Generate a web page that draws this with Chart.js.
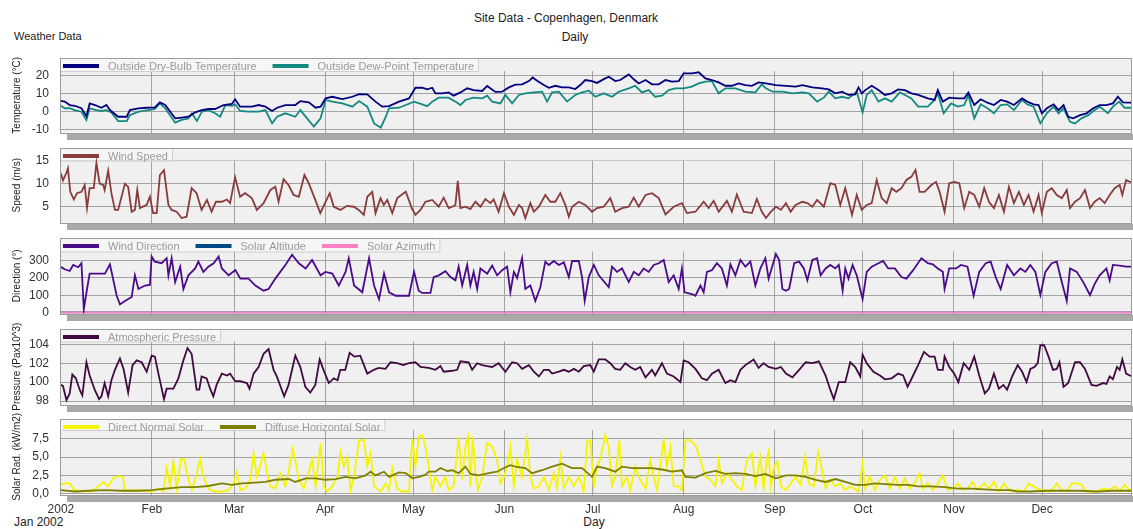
<!DOCTYPE html>
<html><head><meta charset="utf-8">
<script src="https://cdn.jsdelivr.net/npm/chart.js@4.4.0/dist/chart.umd.min.js"></script>
<style>
html,body{margin:0;padding:0;background:#fff;width:1133px;height:529px;overflow:hidden;font-family:"Liberation Sans",Arial,sans-serif;}
canvas{position:absolute;left:0;top:0;}
.t{position:absolute;white-space:nowrap;color:#222;line-height:1;}
</style></head><body>
<div class="t" style="left:566px;top:12px;font-size:12px;transform:translateX(-50%);">Site Data - Copenhagen, Denmark</div>
<div class="t" style="left:575px;top:31px;font-size:12px;transform:translateX(-50%);">Daily</div>
<div class="t" style="left:14px;top:31px;font-size:11px;">Weather Data</div>
<div class="t" style="left:14px;top:516px;font-size:12px;">Jan 2002</div>
<div class="t" style="left:594px;top:516px;font-size:12px;transform:translateX(-50%);">Day</div>
<script>
// ---------------- DATA (day of year, value) ----------------
const monthTicks = [0,31,59,90,120,151,181,212,243,273,304,334];
const monthLabels = ['2002','Feb','Mar','Apr','May','Jun','Jul','Aug','Sep','Oct','Nov','Dec'];
const tempTicks = [-10,0,10,20];
const speedTicks = [5,10,15];
const dirTicks = [0,100,200,300];
const pressTicks = [98,100,102,104];
const solarTicks = [0,2.5,5,7.5];

const dryBulb = [[0,6],[1.3,5.6],[3,3.7],[4.7,3.3],[7,1.9],[8.7,-2.5],[9.8,4.6],[11.6,3.7],[13.8,2.2],[15.5,3.7],[16.7,0.9],[19.5,-2.8],[22.4,-2.8],[23.5,0.9],[26.4,1.9],[29.2,2.2],[32,2.4],[33.7,5.2],[35.5,3.7],[38.9,-3.7],[41.1,-3.3],[43.4,-2.8],[45.7,-0.4],[48,0.9],[50.2,1.5],[52.5,1.5],[55.4,3.7],[58.2,4.3],[59.3,6.9],[61,2.8],[65,2.8],[67.3,3.7],[69.6,2.8],[71.9,0.4],[73.6,2.2],[76.4,3.7],[79.8,3.7],[81.5,5.9],[84.4,5.2],[86.7,2.2],[88.4,2.8],[90.1,7.4],[92.4,8.3],[95.8,7],[99.2,8.3],[101.5,9.8],[104.3,9.6],[107.1,5.6],[109.4,2.8],[111.7,3.1],[115.1,5.6],[118.5,7.4],[120.7,13.3],[123,13.3],[124.7,12.4],[126.4,13.3],[127.5,10.2],[129.8,10.2],[132,10.7],[133.7,8.9],[136,10.7],[138.3,13],[140.5,12],[143.4,11.5],[145.1,14.3],[147.9,11],[150.2,11.1],[152.5,13.5],[154.7,15],[157,15.2],[159.3,17],[160.6,19],[162.1,17.2],[164.4,14.8],[166.1,13.3],[168.3,14.4],[170.6,13.5],[172.9,13.5],[175.1,12.6],[176.8,14.8],[178.5,17.6],[180.8,17],[182.5,16],[184.8,18.1],[186.5,19.4],[188.7,17],[190.4,17.6],[193.3,20.7],[195,18],[196.7,15.7],[199,17.6],[201.2,15.2],[203.5,15.2],[205.8,17.6],[208,16.7],[210.3,17],[212,21.3],[214.8,21.3],[217.1,21.9],[219.4,18.5],[221.6,17.6],[223.9,16.3],[226.2,14.4],[228.4,14.4],[230.7,15.7],[233,14.8],[235.2,14.4],[237.5,16.3],[240,15.7],[243.4,14.8],[246.8,14.3],[250.1,13.9],[252.4,14.8],[255.8,13.5],[259.1,13],[261.4,12.4],[263.6,10.2],[265.9,11.1],[268.1,9.3],[270.4,9.6],[271.5,13.5],[272.6,10.2],[273.8,12],[276,14.4],[278.3,12],[280.5,9.3],[282.8,10.2],[285,12.4],[287.3,12],[289.5,10.2],[291.8,9.3],[295.1,7.4],[297.4,6.5],[298.5,12],[300.2,5.6],[302.4,7.8],[305.3,7.4],[307.5,7.4],[308.9,10.6],[310.9,3.7],[313.1,6.9],[315.4,5],[317.6,3.7],[319.9,6.5],[322.1,5.6],[324.4,3.7],[327.2,7.4],[328.9,5.6],[331.1,4.1],[332.8,3.7],[333.9,-0.9],[335.6,1.9],[337.9,4.1],[339.6,0.9],[341.3,3.7],[342.9,-2.8],[344.6,-3.7],[346.9,-1.9],[349.1,-0.9],[351.4,1.9],[353.6,3.7],[355.9,3.7],[358.1,4.6],[359.8,8.3],[361.5,5.2],[363.8,5],[365,5]];

const dewPoint = [[0,3.3],[1.3,1.9],[3,1.9],[4.7,0.9],[7,0],[8.7,-4.6],[9.8,1.9],[12.1,0.9],[13.8,0.4],[15.5,0.9],[17.2,-0.4],[19.5,-5.2],[22.4,-5.2],[23.5,-1.9],[26.4,0],[29.8,0.9],[32,1.5],[33.7,4.6],[35.5,1.9],[38.9,-6.1],[41.1,-4.6],[43.4,-3.7],[44.6,-0.9],[46.3,-5.2],[48,0],[50.2,0.9],[52.5,-0.9],[54.2,-2.8],[56,3.7],[58.2,3.3],[59.3,4.1],[61,0.4],[63.9,0],[67.3,0],[69.6,0.9],[71.9,-6.5],[73.6,-2.8],[76.4,-0.9],[79.8,-2.8],[81.5,0.9],[83.8,-3.7],[86.1,-8.3],[88.4,-3.7],[90.1,6.5],[92.4,5.6],[95.8,4.6],[99.2,2.8],[101.5,5.9],[104.3,2.8],[106.6,-6.5],[108.9,-8.9],[110.6,-2.8],[111.7,1.9],[115.1,2.2],[117.4,3.7],[120.2,5.6],[123,4.1],[124.7,3.1],[126.4,5.6],[128.6,7.8],[132,7.8],[134.9,5],[136,3.7],[137.7,6.5],[140.5,7.8],[143.4,7.4],[145.1,8.9],[146.8,5.6],[149.6,4.6],[151.3,9.3],[153.6,4.6],[155.9,9.3],[158.1,10.2],[161,10.7],[163.8,11.1],[165.5,5.6],[167.2,10.7],[169.5,11.1],[172.3,5.6],[175.1,9.3],[177.4,10.7],[179.7,11.7],[181.9,8.3],[184.8,10.2],[187.6,8.3],[189.9,11.1],[193.3,13],[195.5,14.4],[197.8,10.7],[200.1,12],[202.3,8.3],[204.6,8.9],[206.9,12],[209.1,13],[212,13],[214.8,13.9],[217.1,15.7],[219.4,16.7],[221.6,17],[223.9,10.2],[226.2,13],[229.6,13],[233,11.1],[236.4,10.7],[238.6,15.2],[240,13],[242.3,11.1],[245.6,11.1],[249,10.2],[252.4,10.7],[254.6,10.2],[257.4,5.6],[259.7,7.8],[261.4,11.1],[263.6,7.4],[265.9,8.3],[268.1,7.4],[270.9,11.1],[272.9,-0.4],[274.3,9.3],[276,12],[278.3,5.6],[280.5,7.4],[282.8,5.6],[285.6,10.7],[287.3,9.3],[289.5,7.4],[291.8,2.8],[295.1,2.8],[297.4,6.5],[298.5,10.2],[300.5,-0.9],[303,4.6],[305.3,2.8],[307.5,3.7],[308.9,9.3],[310.9,-3.7],[313.1,4.1],[315.4,1.9],[317.6,-0.9],[319.9,3.7],[322.1,4.1],[324.4,0.9],[327.2,6.5],[328.9,4.1],[331.1,2.8],[333.4,-6.5],[335.6,-0.9],[337.9,2.8],[339.6,-0.9],[341.3,1.9],[343.5,-5.6],[345.2,-6.5],[347.4,-3.7],[349.7,-1.9],[351.9,0.9],[353.6,2.8],[356.4,-0.9],[358.1,2.8],[360.2,5.6],[362.1,2.2],[365,2.2]];

const windSpeed = [[0,12.3],[0.7,10.7],[1.9,12.4],[2.4,13.4],[3.2,8.2],[4.4,6.5],[5.5,7.9],[7,8.2],[8.1,9.7],[8.9,4.6],[9.8,9],[11.2,9],[12.1,14.6],[13.2,10],[14.4,9.7],[14.9,8.6],[16.1,12.9],[17.2,7.9],[18.4,4.2],[19.5,4.2],[21.8,10],[22.9,9.3],[24.1,3.8],[25.2,4.2],[26,8.6],[26.9,4.6],[29.2,5.3],[30.3,7.1],[31.4,3.5],[32.6,3.5],[33.7,11.9],[35.1,13],[36.6,5.3],[37.7,4.2],[39.4,3.8],[41.1,2.4],[42.8,2.7],[44.5,9],[46.2,7.9],[47.9,4.2],[49.7,6.4],[51.3,3.8],[52.8,6],[54.8,6],[56.5,6.5],[57.6,5.7],[59.3,11.4],[61,7.1],[62.7,7.9],[65,6.8],[66.7,4.2],[69,5.7],[71.3,8.6],[73,9.3],[74.1,6],[75.8,11],[77.5,9.7],[79.2,7.5],[81,7.1],[82.9,11.9],[84.3,10.2],[86.6,6.4],[88.3,3.5],[90.1,6],[91.5,7.9],[92.9,4.9],[95.2,4.2],[97.4,5.1],[99.7,4.9],[101.4,4.2],[103.1,3.1],[104.3,7.1],[106,8.2],[107.1,3.5],[108.8,6.8],[109.9,5.3],[111.1,6.4],[112.8,3.5],[114.5,6.8],[117.4,8.2],[119.5,4.5],[120.7,3.1],[122.4,4.2],[124.1,6],[126.4,6.4],[128.6,4.9],[130.3,6.9],[132,4.6],[133.2,4.9],[134.3,5.3],[135.1,10.6],[136,4.6],[137.7,4.9],[139.4,4.4],[141.1,6],[142.8,4.9],[144.5,6.6],[146.2,5.7],[147.3,6.5],[149,3.8],[150.8,7.9],[152.5,4.9],[154.2,3.1],[155.9,5.3],[157,4.6],[158.1,2.4],[159.8,5.7],[161,3.8],[162.7,4.9],[164.9,7.5],[166.6,6],[168.3,6],[170,7.9],[171.7,5.3],[172.9,2.7],[174,4.9],[176.3,6],[178.5,5.3],[180.8,3.8],[182.5,4.6],[184.8,4.9],[187,6.8],[188.7,3.8],[191,4.6],[193.3,4.9],[195,6.9],[196.7,4.9],[199,7.5],[201.2,7.9],[203.5,6.8],[205.8,3.2],[208.6,4.9],[211.4,5.7],[213.1,3.5],[216,3.8],[218.8,6],[220.5,4.6],[222.2,6.2],[223.9,3.8],[226.7,6.2],[228.4,3.8],[230.1,7.6],[232.4,3.8],[235.2,3.5],[236.9,6.6],[238.6,3.8],[240,2.4],[241.7,3.8],[243.4,4.9],[245.1,4.2],[246.8,5.7],[248.4,3.8],[250.1,5.3],[252.4,6],[254.1,5.7],[255.8,4.9],[257.4,6.4],[259.7,4.9],[261.9,10.1],[263.6,9.7],[265.3,5.3],[267,9],[269.3,3.1],[270.9,7.5],[272.6,4.2],[274.3,5.3],[276,5.7],[277.7,10.8],[279.4,6.8],[281.1,5.7],[282.8,9],[284.4,8.2],[286.1,9],[287.8,10.8],[289.5,11.5],[290.9,13],[292.3,8.2],[294,8.2],[296.3,9.7],[297.9,10.4],[299.1,8.2],[300.8,3.8],[302.4,10.1],[304.1,10.4],[305.8,10.1],[307.5,4.6],[309.2,8.2],[310.9,7.5],[312.6,4.9],[314.3,9],[315.9,6],[317.6,4.6],[319.3,7.5],[321,3.8],[322.7,9.3],[324.4,5.7],[326.1,8.2],[327.8,5.3],[329.4,7.5],[331.1,3.8],[332.8,7.5],[333.9,3.5],[335.6,8.2],[337.3,9],[339,7.5],[340.7,6.8],[342.4,8.6],[343.5,4.6],[345.2,6],[346.9,6.8],[348.6,8.6],[350.3,4.6],[351.9,6],[353.6,6.8],[355.3,5.7],[357,7.5],[358.7,9],[360.4,9.7],[361.3,7.5],[362.6,10.8],[363.8,10.4],[365,10.4]];

const windDirection = [[0,264],[1.3,250],[3,240],[4.2,275],[5.9,262],[7,285],[7.8,18],[8.9,136],[9.8,225],[15,225],[16.7,279],[19,97],[20.1,47],[21.8,67],[24.1,90],[25.2,215],[26.4,136],[28.6,156],[30.3,160],[30.9,324],[32,294],[34.3,285],[36,314],[36.6,215],[37.7,314],[38.9,176],[40.6,265],[41.7,136],[43.4,215],[45.7,255],[46.8,294],[48.5,235],[50.2,265],[52,285],[53.7,324],[54.8,255],[57.1,215],[59.4,245],[61.1,196],[63.9,196],[66.2,156],[69,126],[70.7,136],[73,196],[76.4,275],[78.7,334],[81,285],[83.3,255],[85.5,304],[88.4,215],[90.1,235],[92.4,225],[94.6,156],[96.9,235],[98,314],[99.8,156],[102.6,117],[104.9,314],[106.6,156],[108.3,77],[110,225],[111.7,117],[114,97],[118.5,97],[120.2,235],[121.8,126],[123,113],[125.8,113],[126.9,205],[128.6,215],[130.9,239],[132.6,205],[134.3,186],[135.4,265],[136.6,156],[138.3,275],[139.4,156],[140.5,235],[141.7,136],[142.8,255],[145.1,225],[146.8,271],[148.5,215],[150.2,245],[151.9,265],[153,117],[154.2,235],[155.3,200],[157,314],[158.1,136],[159.8,156],[161.5,67],[163.2,146],[164.9,294],[166.1,275],[167.8,298],[169.5,275],[171.2,290],[172.9,205],[174,298],[176.3,298],[177.4,205],[178.3,67],[179.7,205],[181.4,275],[183.1,215],[186.5,146],[187.6,265],[189.3,235],[191,255],[193.3,176],[195,235],[196.7,215],[198.4,255],[200.1,235],[201.8,275],[203.5,285],[205.2,304],[206.9,176],[208.6,215],[210.3,136],[211.4,255],[212.3,117],[214.8,107],[216,97],[217.7,156],[218.8,117],[219.9,235],[221.6,245],[223.3,285],[225,255],[226.7,156],[227.9,279],[229.6,215],[231.3,304],[233,265],[234.7,294],[236.4,156],[238.1,255],[239.8,314],[240.9,196],[243.4,338],[244.5,304],[245.6,136],[246.8,126],[247.9,136],[249.6,285],[251.3,294],[252.9,255],[254.1,186],[255.8,304],[257.4,314],[258.6,215],[260.3,255],[261.9,275],[263.6,255],[264.8,275],[266.1,126],[267,255],[268.1,196],[269.5,275],[270.9,215],[272.9,77],[274.3,235],[276,265],[278.3,285],[279.9,298],[281.6,255],[283.9,255],[286.1,205],[287.8,196],[290.1,245],[292.9,314],[295.1,285],[296.8,279],[298.5,255],[300.2,235],[300.8,136],[302.4,255],[304.7,255],[306.4,275],[308.6,265],[310.7,97],[312.6,235],[314.8,285],[316.5,294],[318.2,205],[319.9,136],[322.1,275],[324.4,215],[326.6,255],[328.3,235],[330,275],[331.7,235],[333.4,101],[335.1,235],[337.3,285],[339,294],[340.7,176],[342.4,67],[343.5,255],[345.8,235],[348,176],[350.3,101],[351.9,166],[353.6,215],[355.9,255],[357,186],[358.1,275],[360.4,271],[362.6,265],[365,265]];
const solarAltitude = [[0,0],[365,0]];
const solarAzimuth = [[0,0],[365,0]];

const pressure = [[0,99.7],[0.7,99.6],[1.9,98.1],[3,98.8],[3.9,100.8],[5.1,100.4],[6.4,99.2],[7.3,98.6],[8.7,102.1],[9.8,100.7],[11.5,99.2],[13,98.2],[13.8,98.5],[14.9,99.9],[16.1,98.5],[17.2,100.2],[18.4,101.3],[20.1,102.5],[21.4,101.3],[22.9,98.9],[24.4,101.8],[25.8,102.3],[27.5,102.1],[29.2,101.1],[30.9,102.8],[32,102.7],[33.2,100.9],[35.1,98.2],[36,99.3],[38.3,99.3],[40,100.4],[41.7,102.3],[43.1,103.6],[44.5,103],[46.2,99.2],[47.1,99.2],[47.9,100.6],[49.6,100.4],[50.8,99.3],[51.9,98.5],[53,99.7],[54.8,100.9],[56.5,100.7],[57.6,100.9],[59.3,100.1],[61,100.1],[63.3,99.9],[64.2,99.3],[65.6,100.9],[67.3,101.6],[69,103],[70.7,103.5],[72.4,101.3],[73.5,100.6],[76,98.5],[77.5,99.7],[79.8,102.8],[81.5,101.6],[83.2,99.5],[84.9,98.9],[86.6,99.7],[88.1,102.4],[89.4,101.3],[91.2,99.9],[92.9,100.4],[94.2,100.2],[95.1,101.3],[96.8,101.3],[98.3,103.1],[99.9,102.7],[101.9,102.8],[104.3,100.9],[106.5,101.3],[108.2,101.5],[110.5,101.4],[112.2,102.1],[114.5,102],[116.5,101.8],[118.5,102],[120.7,102.1],[122.4,101.6],[125.2,101.5],[127.5,101.3],[129.2,101.7],[130.3,101.1],[133.2,101.2],[134.9,101.3],[136,102.2],[138.8,102.1],[140,101.3],[141.7,102],[143.4,101.8],[145.1,101.7],[146.8,101.6],[149,102],[151.3,101.1],[153.6,102.1],[155.3,102],[157,101.4],[159.3,101.8],[161,101.1],[162.7,100.6],[164.4,101.3],[166.1,101.3],[167.2,100.9],[169.5,101.1],[171.2,101.3],[172.9,101.1],[174.6,101.4],[176.3,101.1],[178,101.7],[180.2,101.8],[181.4,101.1],[183.1,102.4],[185.3,102.4],[187,102],[188.7,101.4],[190.4,101.3],[192.1,102],[193.8,101.6],[195.5,101.3],[197.2,101.6],[199,100.5],[201.2,101.3],[202.3,100.7],[204.6,102],[206.3,100.9],[208.6,100.6],[210.9,100],[212,102.3],[213.7,102.1],[216,101.4],[218.2,100.4],[219.9,100.2],[221.6,100.9],[223.9,101.3],[226.2,99.9],[227.9,100.2],[229.6,100],[231.3,101.3],[233,101.8],[235.8,102.4],[237.5,101.5],[239.2,102],[240.9,101.6],[243.4,101.4],[245.1,101.6],[246.8,100.9],[249,100.5],[251.3,101.3],[253.5,102.1],[255.8,102],[258,102.2],[260.3,100.7],[261.9,99.2],[263.1,98.2],[264.8,100],[267,100],[268.7,102.1],[270.4,101.6],[272.1,100.6],[272.9,102.9],[274.3,102],[276.6,101.1],[278.8,100.7],[280.5,100.3],[282.8,100.4],[285,100.9],[286.7,100.7],[288.2,99.5],[290.1,100.7],[291.8,101.8],[293.8,103.2],[295.7,102.7],[297.4,102.7],[298.5,101.3],[300.2,101.3],[300.8,102.7],[302.4,101.6],[304.1,100.9],[305.5,100],[307.3,102],[309.2,101.3],[310.9,102.7],[312.6,100.7],[314.5,98.8],[315.9,99.3],[317.6,100.9],[319.3,99.3],[320.8,99.7],[322.1,99.2],[323.8,100.6],[325.7,101.8],[327.2,101.1],[328.7,100],[330,101.4],[331.4,101.6],[332.5,102],[333.4,103.9],[334.7,103.9],[336.2,102.7],[337.7,101.3],[339,101.4],[339.9,102.1],[341.3,99.5],[342.9,99.9],[345.2,102.1],[346.9,102.1],[348.6,101.4],[350.8,99.7],[352.5,99.6],[354.8,99.9],[355.9,99.8],[357,100.6],[358.1,100.3],[359.5,101.6],[360.4,101.3],[361.3,102.4],[362.6,100.9],[363.8,100.7],[365,100.6]];

const directNormal = [[0,1.2],[1.3,1.4],[3,1.4],[4.2,0.7],[5.9,0.3],[8.1,0.4],[10.4,0.3],[12.7,1],[14.4,1.6],[16.1,1],[17.8,2.1],[19.5,2.4],[21.2,2.3],[21.8,0.4],[25.2,0.5],[27.5,0.4],[30.9,0.3],[33.2,0.7],[34.9,0.3],[36,3.5],[37.2,1],[38.3,4.4],[39.4,0.7],[40.9,4.7],[42,4.7],[43.4,1.9],[44.6,0.5],[46.3,2.8],[47.4,4.8],[48.5,2.3],[50.2,0.7],[52,0.3],[54.8,0.3],[57.1,0.5],[58.8,1.4],[59.9,3],[61.1,0.5],[62.8,0.7],[64.5,1.9],[65.6,5.5],[66.7,2.3],[67.9,3.9],[69,5.5],[70.2,2.8],[71.3,1],[73,0.7],[74.7,2.8],[76.4,1],[77.6,3.2],[78.9,6.2],[79.8,4.6],[81,1.9],[82.7,0.7],[84.4,3],[85.5,4.6],[86.7,1],[88.4,6.9],[89.5,1],[90.6,0.3],[92.4,1],[94.1,2.3],[95.2,5.7],[96.3,3.7],[97.5,5],[98.6,0.5],[99.8,2.3],[101.5,7.3],[103.2,7.3],[104.3,3.7],[105.4,5.5],[106.6,1],[108.9,0.3],[110.6,1.4],[111.7,0.5],[112.8,3.5],[114.5,0.7],[116.2,0.3],[118.5,0.3],[119.6,7.5],[120.7,3.7],[121.8,7.8],[123,8],[124.1,6.4],[125.2,3.7],[126.4,0.5],[127.5,2.3],[129.2,1],[130.9,2.3],[132,0.5],[133.7,1],[135.4,7.8],[136.6,1.9],[137.7,6.4],[138.6,7.8],[139.4,1],[140.2,7.8],[141.1,2.8],[142,0.5],[143.4,2.3],[145.1,6.9],[146.8,6.4],[148.5,4.6],[149.6,1.4],[150.8,2.3],[151.9,3.7],[153,6.4],[154.2,1],[155.3,4.6],[157,2.3],[158.7,7.5],[159.8,2.3],[161,0.7],[162.7,1],[164.4,2.3],[166.1,0.5],[167.8,2.8],[168.9,0.7],[170,5],[171.2,0.7],[172.9,2.3],[174.6,1],[176.3,2.3],[178,0.3],[179.1,7.1],[180.2,7.3],[181.4,1],[182.5,3.7],[183.6,4.6],[185.3,8],[186.5,6.4],[187.6,1],[188.7,2.3],[190.1,7.3],[191,1],[192.7,2.3],[193.8,0.5],[195.5,3.7],[197.2,1.9],[199,0.7],[200.6,4.6],[201.8,2.3],[202.9,0.5],[204,3.7],[205.2,7.3],[206.3,3.7],[207.5,6.4],[208.6,1],[210.3,1],[211.4,0.5],[212.6,7.3],[214.3,7.3],[216,6.6],[217.7,4.6],[219.4,2.3],[221.1,1.9],[222.8,1],[223.9,4.6],[225,1.4],[226.7,2.8],[228.4,1.9],[230.1,1],[231.8,0.5],[233.5,4.6],[235.2,5.5],[236.4,1],[238.1,5],[239.2,0.7],[240.3,4.6],[240.9,5.7],[241.7,1],[242.8,3.7],[243.9,4.4],[245.1,1],[246.8,0.5],[248.4,1.4],[250.1,2.3],[251.8,1.2],[253.3,5],[254.6,1.4],[256.3,1],[257.8,5.7],[259.1,3.2],[260.3,0.7],[261.9,1.9],[263.6,1],[265.3,1.4],[267,0.5],[268.7,1],[269.8,0.7],[271.5,0.3],[272.9,4.1],[273.8,0.7],[275.4,2.3],[277.1,0.5],[278.8,1.9],[280.5,2.5],[282.2,0.7],[283.9,2.3],[285.6,0.7],[287.3,2.1],[288.9,0.7],[290.6,1.4],[292.3,2.8],[293.4,0.7],[295.1,1.4],[296.8,0.5],[298.5,1.4],[300.2,2.5],[301.9,0.5],[303.6,0.7],[305.3,1.4],[306.9,0.5],[308.6,0.7],[310.3,1.6],[312,0.5],[314.3,1.4],[315.9,0.7],[317.6,1.6],[319.3,0.3],[321,1.4],[323.3,0.3],[325.5,0.5],[327.8,0.3],[329.4,1.4],[331.1,1],[333.4,0.5],[335.1,0.5],[336.8,0.3],[339,1.4],[340.7,0.5],[342.4,0.3],[344.1,1.4],[345.8,1.4],[347.4,1.2],[349.1,0.3],[350.8,0.3],[352.5,0.3],[354.8,0.7],[357,0.5],[358.7,1],[360.4,0.3],[362.1,1.2],[363.8,0.5],[365,0.5]];

const diffuseHorizontal = [[0,0.5],[4.7,0.3],[9.3,0.4],[15,0.5],[20.7,0.4],[26.4,0.4],[30.9,0.5],[35.5,0.7],[41.1,0.9],[45.7,0.9],[50.2,1.05],[54.8,1.4],[58.2,1.2],[61.6,1.4],[66.2,1.5],[69.6,1.6],[73,1.9],[77.6,2],[79.8,1.6],[83.3,2.1],[86.7,2.1],[90.1,1.9],[93.5,2],[96.9,2.3],[100.3,2.1],[103.7,2.5],[105.4,3],[107.1,2.5],[110,3],[111.7,2.3],[115.1,2.9],[117.4,2.8],[119.7,2.1],[121.9,2.3],[124.2,2.6],[125.2,3],[127.5,3],[129.2,3.5],[131.5,3.1],[133.2,3.2],[135.4,2.8],[137.7,3.7],[139.4,2.7],[142.2,2.5],[145.6,2.8],[148.5,3],[150.8,3.5],[153,3.9],[154.7,3.7],[158.1,3.5],[160.4,2.8],[163.8,3.2],[167.2,3.7],[170.6,4.1],[174,3.5],[177.4,3.5],[180.8,2.3],[182.5,3.7],[185.3,3.5],[188.7,3],[191,3.7],[194.4,3.5],[197.8,3.5],[201.2,3.5],[204.6,3.3],[208,3],[211.4,3.2],[212.6,2.3],[216,2.2],[219.4,2.8],[222.8,3.1],[226.2,2.7],[229.6,2.8],[233,2.7],[236.4,2.4],[239.8,2.7],[243.4,2.1],[246.8,2.5],[250.1,2.5],[253.5,2.3],[256.9,1.9],[260.3,1.6],[263.6,2],[267,1.6],[270.4,1.2],[273.8,1.2],[277.1,1.4],[280.5,1.3],[285,1.2],[288.4,1.2],[291.8,1],[296.3,1],[300.8,0.9],[305.3,0.7],[309.8,0.7],[314.3,0.6],[318.8,0.5],[323.3,0.5],[325.5,0.3],[330,0.3],[335.6,0.4],[341.3,0.4],[346.9,0.4],[352.5,0.3],[358.1,0.4],[365,0.4]];

// ---------------- PANELS ----------------
const FONT = '"Liberation Sans", Arial, Helvetica, sans-serif';
const W = 1133, H = 529;
const panels = [
  {top:58, bottom:132.5, strip:13, min:-11.56, max:29.83, ticks:tempTicks, fmt:v=>String(v), title:'Temperature (°C)',
   series:[{label:'Outside Dry-Bulb Temperature', data:dryBulb, color:'#000080', order:0},
           {label:'Outside Dew-Point Temperature', data:dewPoint, color:'#138a80', order:1}]},
  {top:148, bottom:222.5, strip:12.5, min:1.42, max:17.87, ticks:speedTicks, fmt:v=>String(v), title:'Speed (m/s)',
   series:[{label:'Wind Speed', data:windSpeed, color:'#883c3c', order:0}]},
  {top:238, bottom:313.5, strip:13.5, min:-5.8, max:431, ticks:dirTicks, fmt:v=>String(v), title:'Direction (°)',
   series:[{label:'Wind Direction', data:windDirection, color:'#4b0a8a', order:0},
           {label:'Solar Altitude', data:solarAltitude, color:'#004a8a', order:2},
           {label:'Solar Azimuth', data:solarAzimuth, color:'#ff80c0', order:1}]},
  {top:329, bottom:404.5, strip:12.5, min:97.63, max:105.62, ticks:pressTicks, fmt:v=>String(v), title:'Pressure (Pax10^3)',
   series:[{label:'Atmospheric Pressure', data:pressure, color:'#400a40', order:0}]},
  {top:419, bottom:494.5, strip:11, min:-0.11, max:10.19, ticks:solarTicks, fmt:v=>v.toFixed(1).replace('.',','), title:'Solar Rad. (kW/m2)', xlabels:true,
   series:[{label:'Direct Normal Solar', data:directNormal, color:'#f5f500', order:1},
           {label:'Diffuse Horizontal Solar', data:diffuseHorizontal, color:'#808000', order:0}]}
];

const panelPlugin = {
  id:'panelDeco',
  beforeDraw(chart, args, o){
    const a = chart.chartArea, ctx = chart.ctx;
    ctx.save();
    ctx.fillStyle = '#f0f0f0';
    ctx.fillRect(a.left, a.top, a.right - a.left, a.bottom - a.top);
    ctx.restore();
  },
  beforeDatasetsDraw(chart, args, o){
    const a = chart.chartArea, ctx = chart.ctx;
    ctx.save();
    ctx.fillStyle = '#f0f0f0';
    ctx.fillRect(a.left, a.top, a.right - a.left, o.strip);
    // legend
    ctx.font = '11px ' + FONT;
    ctx.textBaseline = 'middle';
    const yc = a.top + 8;
    let x = a.left + 3;
    const starts = [];
    o.items.forEach(it => {
      starts.push(x);
      x += 36 + 9 + ctx.measureText(it.label).width + 16;
    });
    const endX = x - 12;
    ctx.fillStyle = '#f6f6f6';
    ctx.fillRect(a.left + 1, a.top + 1, endX - a.left - 1, o.strip - 1);
    ctx.strokeStyle = '#cfcfcf';
    ctx.lineWidth = 1;
    ctx.beginPath();
    ctx.moveTo(a.left + 1, a.top + o.strip + 0.5);
    ctx.lineTo(endX + 0.5, a.top + o.strip + 0.5);
    ctx.lineTo(endX + 0.5, a.top + 1);
    ctx.stroke();
    o.items.forEach((it, i) => {
      const sx = starts[i];
      ctx.strokeStyle = it.color;
      ctx.lineWidth = 4;
      ctx.beginPath();
      ctx.moveTo(sx, yc); ctx.lineTo(sx + 36, yc);
      ctx.stroke();
      ctx.fillStyle = '#9a9a9a';
      ctx.fillText(it.label, sx + 45, yc + 0.5);
    });
    ctx.restore();
  },
  afterDraw(chart, args, o){
    const a = chart.chartArea, ctx = chart.ctx;
    ctx.save();
    ctx.strokeStyle = '#9c9c9c';
    ctx.lineWidth = 1;
    ctx.strokeRect(Math.round(a.left) + 0.5, Math.round(a.top) + 0.5, Math.round(a.right - a.left) - 1, Math.round(a.bottom - a.top));
    ctx.fillStyle = '#a9a9a9';
    ctx.fillRect(67, Math.round(a.bottom) + 1, W - 67, 6);
    ctx.restore();
  }
};

panels.forEach((p, idx) => {
  const cv = document.createElement('canvas');
  cv.width = W; cv.height = H;
  cv.style.width = W + 'px'; cv.style.height = H + 'px';
  document.body.appendChild(cv);
  const xh = p.xlabels ? 30 : 0;
  new Chart(cv.getContext('2d'), {
    type: 'line',
    data: {
      datasets: p.series.map(s => ({
        label: s.label,
        data: s.data.map(d => ({x: d[0], y: d[1]})),
        borderColor: s.color,
        backgroundColor: s.color,
        borderWidth: 1.8,
        pointRadius: 0,
        tension: 0,
        fill: false,
        order: s.order
      }))
    },
    options: {
      responsive: false,
      animation: false,
      devicePixelRatio: 1,
      events: [],
      layout: {autoPadding: false, padding: {left: 0, right: 1, top: p.top, bottom: H - p.bottom - xh}},
      plugins: {
        legend: {display: false},
        tooltip: {enabled: false},
        panelDeco: {strip: p.strip, items: p.series}
      },
      scales: {
        x: {
          type: 'linear', min: -0.3, max: 364.6,
          afterBuildTicks: s => { s.ticks = monthTicks.map(v => ({value: v})); },
          afterFit: s => { s.height = xh; },
          border: {display: false},
          grid: {color: c => (c.tick && c.tick.value === 0) ? 'rgba(0,0,0,0)' : '#a3a3a3', lineWidth: 1, drawTicks: false},
          ticks: {display: !!p.xlabels, autoSkip: false, maxRotation: 0, padding: 8, color: '#333',
                  font: {size: 12, family: FONT},
                  callback: v => monthLabels[monthTicks.indexOf(v)]}
        },
        y: {
          type: 'linear', min: p.min, max: p.max,
          afterBuildTicks: s => { s.ticks = p.ticks.map(v => ({value: v})); },
          afterFit: s => { s.width = 60; },
          border: {display: false},
          grid: {color: '#a3a3a3', lineWidth: 1, drawTicks: false},
          ticks: {padding: 11, color: '#333', font: {size: 12, family: FONT}, callback: v => p.fmt(v)},
          title: {display: true, text: p.title, color: '#222', font: {size: 10, family: FONT}, padding: {top: 11.5, bottom: 0}}
        }
      }
    },
    plugins: [panelPlugin]
  });
});
</script>
</body></html>
